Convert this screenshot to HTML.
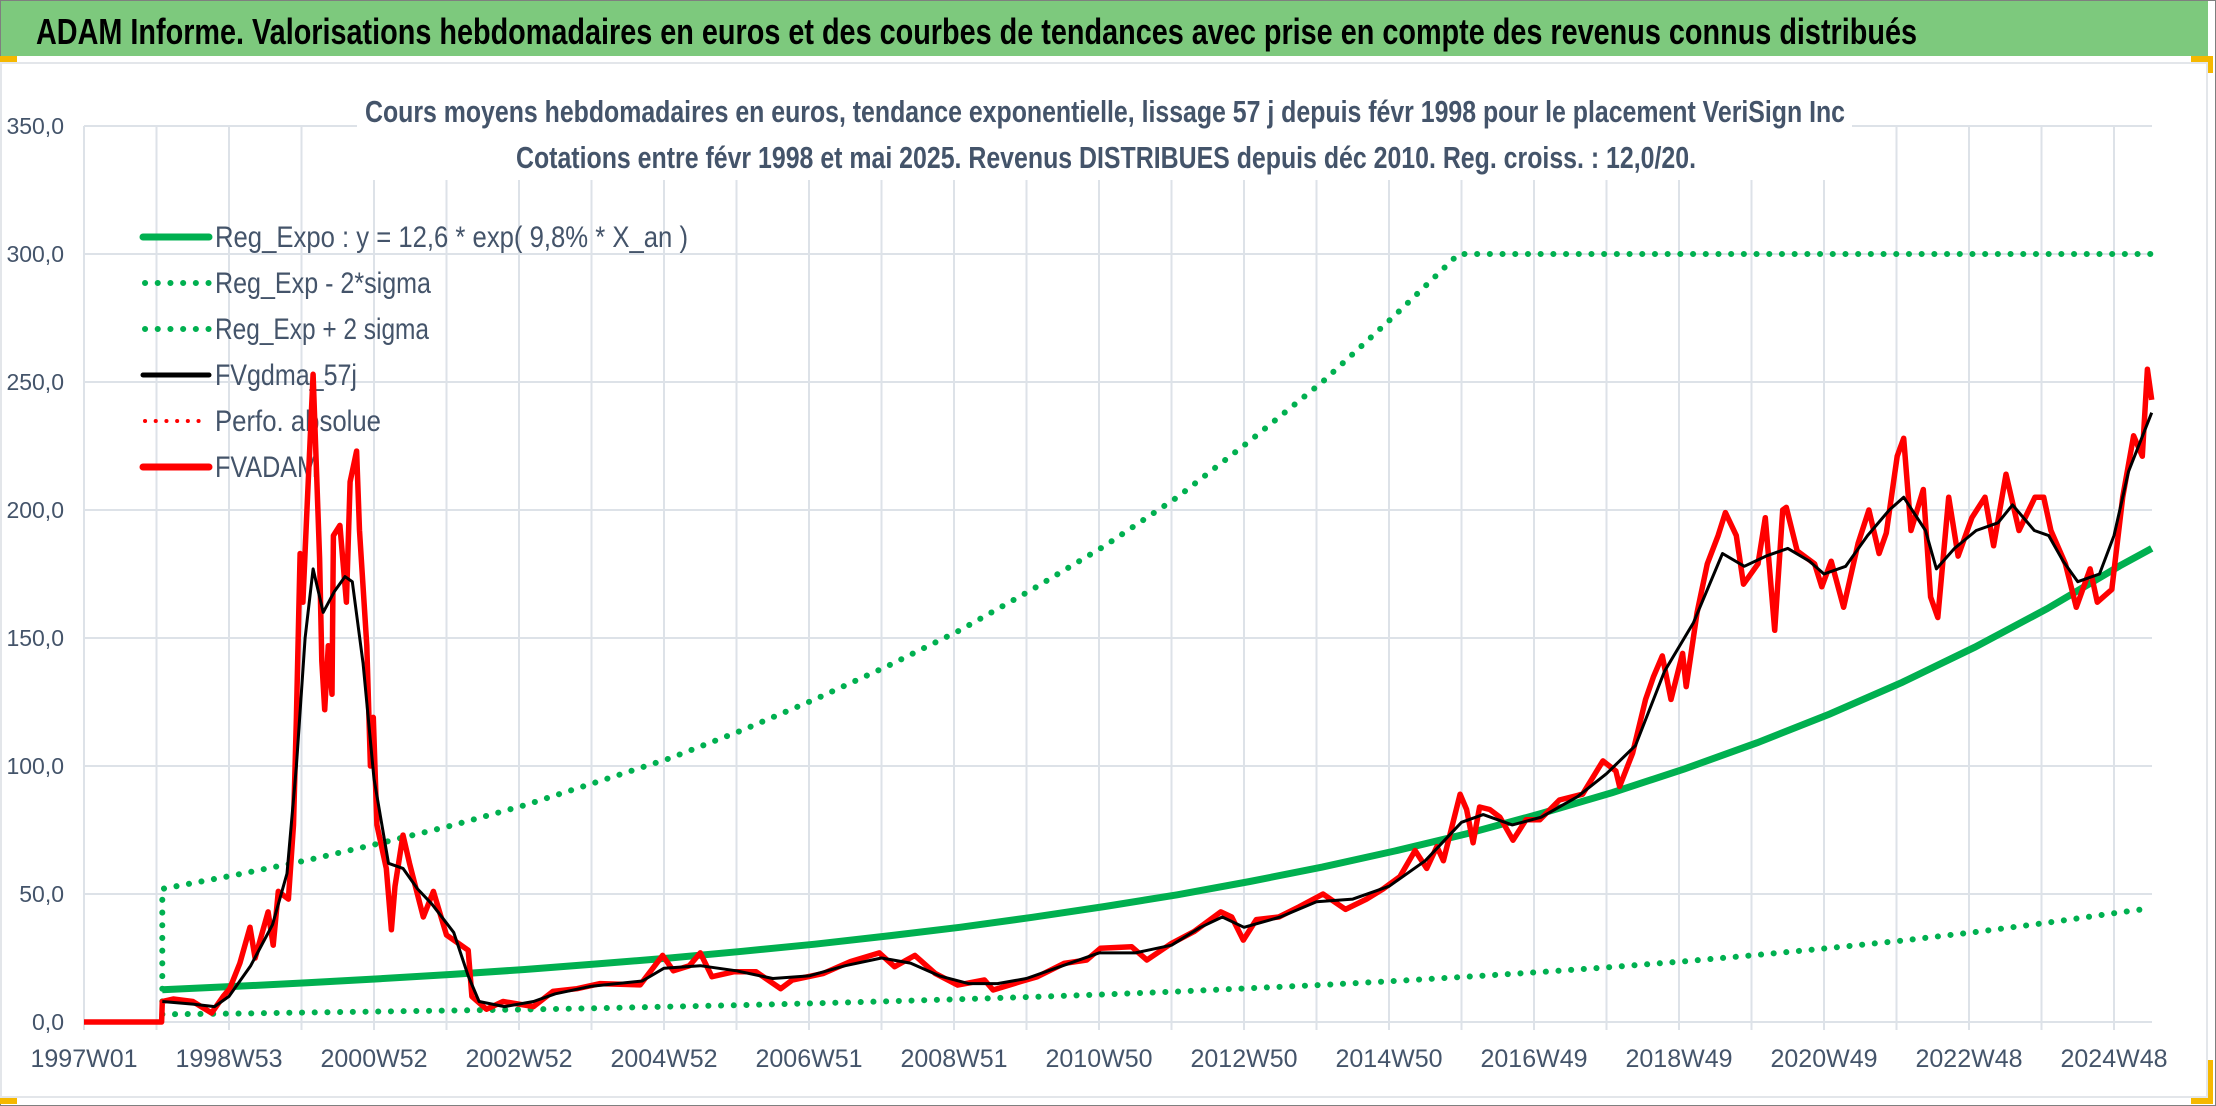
<!DOCTYPE html>
<html><head><meta charset="utf-8">
<style>
html,body{margin:0;padding:0;background:#fff;}
svg{display:block;}
text{font-family:"Liberation Sans Narrow","Liberation Sans",sans-serif;}
</style></head>
<body>
<svg id="chart" width="2216" height="1106" viewBox="0 0 2216 1106" xmlns="http://www.w3.org/2000/svg">
  <rect x="0" y="0" width="2216" height="1106" fill="#ffffff"/>
  <rect x="0.5" y="0.5" width="2215" height="1105" fill="none" stroke="#7f7f7f" stroke-width="1"/>
  <rect x="1" y="1" width="2207" height="55" fill="#7dc97d"/>
  <text x="36" y="44" font-size="36" font-weight="bold" fill="#000" textLength="1881" lengthAdjust="spacingAndGlyphs">ADAM Informe. Valorisations hebdomadaires en euros et des courbes de tendances avec prise en compte des revenus connus distribués</text>
  <rect x="1" y="63" width="2206" height="1034" fill="#fff" stroke="#e3e6ea" stroke-width="2"/>
  <rect x="0" y="56" width="17" height="6" fill="#f5b800"/>
  <rect x="2191" y="56" width="17" height="6" fill="#f5b800"/>
  <rect x="2208" y="56" width="5" height="17" fill="#f5b800"/>
  <rect x="0" y="1098" width="17" height="6" fill="#f5b800"/>
  <rect x="2191" y="1098" width="17" height="6" fill="#f5b800"/>
  <rect x="2208" y="1060" width="5" height="44" fill="#f5b800"/>
  <g id="grid"></g>
  <rect x="357" y="88" width="1495" height="92" fill="#fff"/>
  <text x="365" y="122" font-size="31" font-weight="bold" fill="#44546a" textLength="1480" lengthAdjust="spacingAndGlyphs">Cours moyens hebdomadaires en euros, tendance exponentielle, lissage 57 j depuis févr 1998 pour le placement VeriSign Inc</text>
  <text x="516" y="168" font-size="31" font-weight="bold" fill="#44546a" textLength="1180" lengthAdjust="spacingAndGlyphs">Cotations entre févr 1998 et mai 2025. Revenus DISTRIBUES depuis déc 2010. Reg. croiss. : 12,0/20.</text>
  <g id="yticks"></g>
  <g id="xticks"></g>
  <g id="legend">
    <g>
      <line x1="143" y1="237" x2="209" y2="237" stroke="#00b050" stroke-width="7" stroke-linecap="round"/>
      <text x="215" y="247" font-size="30" fill="#44546a" textLength="473" lengthAdjust="spacingAndGlyphs">Reg_Expo : y = 12,6 * exp( 9,8% *  X_an )</text>
    </g>
    <g>
      <line x1="145" y1="283" x2="209" y2="283" stroke="#00b050" stroke-width="6" stroke-linecap="round" stroke-dasharray="0.1 12.6"/>
      <text x="215" y="293" font-size="30" fill="#44546a" textLength="216" lengthAdjust="spacingAndGlyphs">Reg_Exp - 2*sigma</text>
    </g>
    <g>
      <line x1="145" y1="329" x2="209" y2="329" stroke="#00b050" stroke-width="6" stroke-linecap="round" stroke-dasharray="0.1 12.6"/>
      <text x="215" y="339" font-size="30" fill="#44546a" textLength="214" lengthAdjust="spacingAndGlyphs">Reg_Exp + 2 sigma</text>
    </g>
    <g>
      <line x1="143" y1="375" x2="209" y2="375" stroke="#000" stroke-width="5" stroke-linecap="round"/>
      <text x="215" y="385" font-size="30" fill="#44546a" textLength="142" lengthAdjust="spacingAndGlyphs">FVgdma_57j</text>
    </g>
    <g>
      <line x1="145" y1="421" x2="209" y2="421" stroke="#ff0000" stroke-width="4" stroke-linecap="round" stroke-dasharray="0.1 10.6"/>
      <text x="215" y="431" font-size="30" fill="#44546a" textLength="166" lengthAdjust="spacingAndGlyphs">Perfo. absolue</text>
    </g>
    <g>
      <line x1="143" y1="467" x2="209" y2="467" stroke="#ff0000" stroke-width="7" stroke-linecap="round"/>
      <text x="215" y="477" font-size="30" fill="#44546a" textLength="103" lengthAdjust="spacingAndGlyphs">FVADAM</text>
    </g>
  </g>
  <g id="series"></g>
</svg>
<script>
// ---- data ----
const yTickValues = [0, 50, 100, 150, 200, 250, 300, 350];
const yTickLabels = ["0,0", "50,0", "100,0", "150,0", "200,0", "250,0", "300,0", "350,0"];
const xTickYears = [1997, 1999, 2001, 2003, 2005, 2007, 2009, 2011, 2013, 2015, 2017, 2019, 2021, 2023, 2025];
const xTickLabels = ["1997W01", "1998W53", "2000W52", "2002W52", "2004W52", "2006W51", "2008W51", "2010W50", "2012W50", "2014W50", "2016W49", "2018W49", "2020W49", "2022W48", "2024W48"];
const gridYears = [1997,1998,1999,2000,2001,2002,2003,2004,2005,2006,2007,2008,2009,2010,2011,2012,2013,2014,2015,2016,2017,2018,2019,2020,2021,2022,2023,2024,2025];

const regYears = [1998.08,1999.08,2000.08,2001.08,2002.08,2003.08,2004.08,2005.08,2006.08,2007.08,2008.08,2009.08,2010.08,2011.08,2012.08,2013.08,2014.08,2015.08,2016.08,2017.08,2018.08,2019.08,2020.08,2021.08,2022.08,2023.08,2024.08,2025.08,2025.52];
const regVals = [12.6,13.9,15.3,16.9,18.6,20.5,22.7,25.0,27.6,30.4,33.6,37.0,40.9,45.1,49.7,54.9,60.5,66.8,73.6,81.3,89.6,98.9,109.1,120.3,132.7,146.4,161.5,178.2,185.0];
const lowVals = [3.0,3.3,3.7,4.1,4.5,4.9,5.4,6.0,6.6,7.3,8.1,8.9,9.8,10.8,11.9,13.2,14.5,16.0,17.7,19.5,21.5,23.7,26.2,28.9,31.8,35.1,38.8,42.8,44.5];
const highYears = [1998.08,1998.08,1999.08,2000.08,2001.08,2002.08,2003.08,2004.08,2005.08,2006.08,2007.08,2008.08,2009.08,2010.08,2011.08,2012.08,2013.08,2014.08,2015.08,2015.96,2025.52];
const highVals = [8,52,57.4,63.2,69.8,76.8,84.7,93.8,103,114,126,139,153,169,186,205,227,250,276,300,300];

const fvadamYears = [1997.0,1998.07,1998.08,1998.23,1998.5,1998.76,1998.92,1999.01,1999.15,1999.29,1999.36,1999.54,1999.61,1999.68,1999.82,1999.89,1999.93,1999.98,2000.02,2000.07,2000.16,2000.25,2000.28,2000.32,2000.37,2000.42,2000.44,2000.53,2000.62,2000.67,2000.76,2000.80,2000.90,2000.95,2000.99,2001.04,2001.17,2001.24,2001.29,2001.40,2001.49,2001.68,2001.82,2002.0,2002.3,2002.35,2002.55,2002.78,2003.2,2003.47,2003.8,2004.12,2004.67,2004.98,2005.13,2005.35,2005.5,2005.66,2005.96,2006.27,2006.61,2006.77,2007.2,2007.57,2007.97,2008.18,2008.46,2008.74,2009.05,2009.42,2009.54,2009.91,2010.15,2010.52,2010.83,2011.02,2011.45,2011.66,2012.0,2012.31,2012.68,2012.83,2012.99,2013.17,2013.48,2013.76,2014.09,2014.4,2014.69,2014.92,2015.15,2015.36,2015.52,2015.66,2015.75,2015.98,2016.07,2016.16,2016.25,2016.39,2016.53,2016.71,2016.89,2017.08,2017.35,2017.67,2017.95,2018.13,2018.18,2018.36,2018.54,2018.65,2018.77,2018.89,2019.05,2019.10,2019.25,2019.39,2019.54,2019.64,2019.79,2019.89,2020.09,2020.19,2020.32,2020.43,2020.48,2020.63,2020.87,2020.97,2021.10,2021.27,2021.47,2021.62,2021.76,2021.86,2022.01,2022.10,2022.20,2022.37,2022.47,2022.57,2022.72,2022.85,2023.04,2023.22,2023.34,2023.51,2023.69,2023.91,2024.03,2024.13,2024.33,2024.48,2024.67,2024.77,2024.97,2025.12,2025.27,2025.39,2025.46,2025.52];
const fvadamVals = [0,0,8,9,8,3.5,10,13,23,37,25,43,30,51,48,77,119,183,164,197,253,181,141,122,147,128,190,194,164,211,223,192,147,100,119,77,60,36,53,73,62,41,51,34,28,10,5,8,6,12,13,15,14.5,26,20,22,27,17.7,19.6,19.6,13,16.4,19,23.6,27,21.6,26,19,14.4,16.4,12.5,15.7,17.7,22.9,24.2,28.8,29.4,24.2,30.7,35.3,43,41,32,40,41,45,50,44,48,52,56.8,67,60,68.5,63,89,83,70,84,83,80,71,79,79,86.7,89,102,98,92,105,126,135,143,126,144,131,160,179,190,199,190,171,179,197,153,200,201,184,179,170,180,162,187,200,183,191,221,228,192,208,166,158,205,182,197,205,186,214,192,205,205,192,179,162,177,164,169,205,229,221,255,243];

const fvgdmaYears = [1998.08,1998.5,1998.8,1999.0,1999.3,1999.6,1999.8,1999.93,2000.05,2000.16,2000.3,2000.45,2000.6,2000.7,2000.85,2001.0,2001.2,2001.4,2001.6,2001.8,2002.1,2002.3,2002.45,2002.8,2003.2,2003.5,2004.0,2004.7,2005.0,2005.5,2006.0,2006.5,2007.0,2007.5,2008.0,2008.4,2008.8,2009.2,2009.6,2010.0,2010.5,2011.0,2011.5,2012.0,2012.4,2012.7,2013.0,2013.5,2014.0,2014.5,2015.0,2015.5,2016.0,2016.3,2016.7,2017.1,2017.6,2018.0,2018.4,2018.8,2019.2,2019.6,2019.9,2020.2,2020.5,2020.8,2021.0,2021.3,2021.6,2021.9,2022.1,2022.4,2022.55,2022.8,2023.1,2023.4,2023.6,2023.9,2024.1,2024.3,2024.5,2024.8,2025.0,2025.2,2025.52];
const fvgdmaVals = [8,7,6,10,22,38,58,100,150,177,160,168,174,172,140,95,62,60,52,46,35,18,8,6,8,11,14,16,21,22,20,17,18,22,25,23,18,15,15,17,22,27,27,30,37,41,37,41,47,48,53,63,78,81,77,80,88,97,108,137,156,183,178,182,185,180,175,178,190,200,205,192,177,185,192,195,202,192,190,180,172,175,190,215,238];

// ---- axes ----
const X0 = 84, PX_PER_YEAR = 72.5, Y0 = 1022, PX_PER_UNIT = 2.56;
function xScale(yr){ return X0 + (yr - 1997) * PX_PER_YEAR; }
function yScale(v){ return Y0 - v * PX_PER_UNIT; }
const NS = "http://www.w3.org/2000/svg";
function mk(tag, attrs, parent){
  const e = document.createElementNS(NS, tag);
  for (const k in attrs) e.setAttribute(k, attrs[k]);
  parent.appendChild(e);
  return e;
}
const grid = document.getElementById('grid');
gridYears.forEach(function(yr){
  const x = xScale(yr);
  const l = mk('line', {x1:x, y1:yScale(350), x2:x, y2:Y0+8, stroke:'#dde2e8', 'stroke-width':2}, grid);
  
  
});
yTickValues.forEach(function(v){
  const y = yScale(v);
  const l = mk('line', {x1:X0, y1:y, x2:2152, y2:y, stroke:'#dde2e8', 'stroke-width':2}, grid);
  
  
});
const yt = document.getElementById('yticks');
yTickValues.forEach(function(v, i){
  const t = mk('text', {x:64, y:yScale(v)+8, 'font-size':23, fill:'#44546a', 'text-anchor':'end'}, yt);
  t.textContent = yTickLabels[i];
  
  
});
const xt = document.getElementById('xticks');
xTickYears.forEach(function(yr, i){
  const t = mk('text', {x:xScale(yr), y:1067, 'font-size':25, fill:'#44546a', 'text-anchor':'middle'}, xt);
  t.textContent = xTickLabels[i];
  
  
});
// ---- series ----
const series = document.getElementById('series');
function pathFrom(xs, vs){
  return xs.map(function(yr, i){ return (i ? 'L' : 'M') + xScale(yr).toFixed(1) + ' ' + yScale(vs[i]).toFixed(1); }).join(' ');
}
const pLow = mk('path', {d:pathFrom(regYears, lowVals), fill:'none', stroke:'#00b050', 'stroke-width':6, 'stroke-linecap':'round', 'stroke-dasharray':'0.1 12.6'}, series);


const pHigh = mk('path', {d:pathFrom(highYears, highVals), fill:'none', stroke:'#00b050', 'stroke-width':6, 'stroke-linecap':'round', 'stroke-dasharray':'0.1 12.6'}, series);


const pReg = mk('path', {d:pathFrom(regYears, regVals), fill:'none', stroke:'#00b050', 'stroke-width':7}, series);


const pRed = mk('path', {d:pathFrom(fvadamYears, fvadamVals), fill:'none', stroke:'#ff0000', 'stroke-width':5.5, 'stroke-linejoin':'round'}, series);


const pBlack = mk('path', {d:pathFrom(fvgdmaYears, fvgdmaVals), fill:'none', stroke:'#000000', 'stroke-width':3, 'stroke-linejoin':'round'}, series);


</script>
</body></html>
